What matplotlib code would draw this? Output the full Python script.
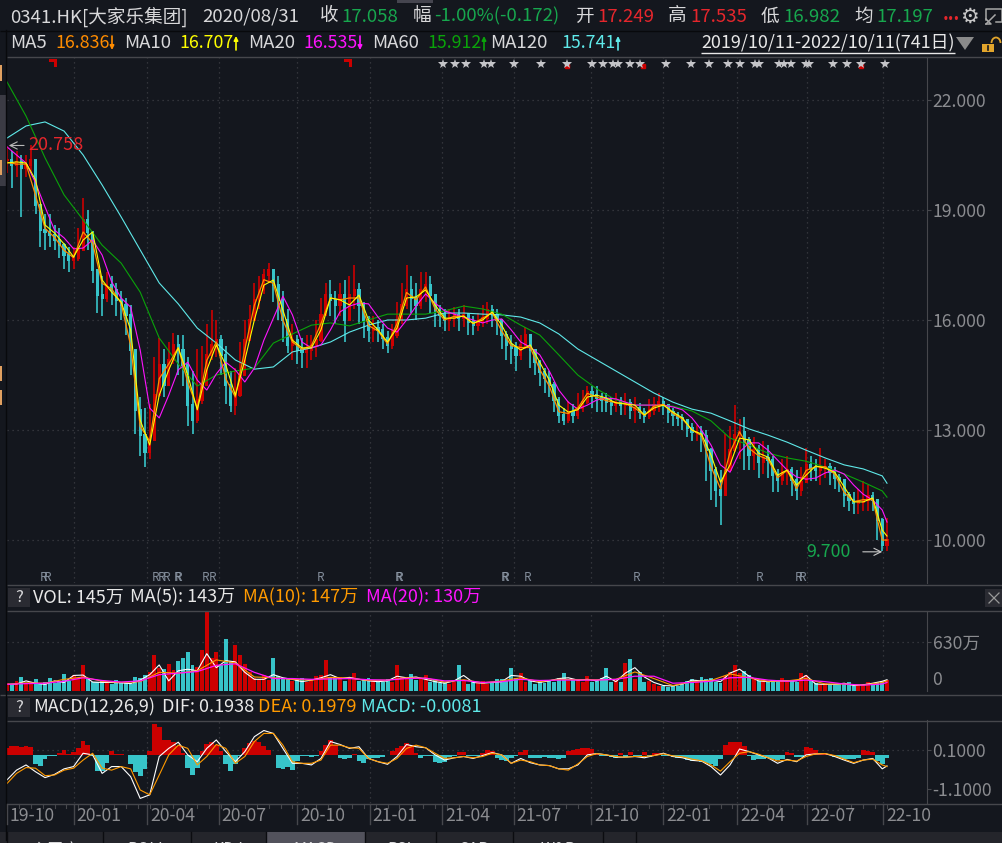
import numpy as np
import matplotlib
matplotlib.use('Agg')
import matplotlib.pyplot as plt
from matplotlib.patches import Rectangle, Arc

plt.rcParams['font.family'] = ['Noto Sans CJK SC', 'DejaVu Sans']

W, H = 1003, 843
BG = '#14171e'
GRID = '#3c3e44'
AXIS = '#46474c'
LABEL = '#8b8c90'
RED = '#e5262c'
GREEN = '#17a74e'
C_UP = '#cc0000'
C_DOWN = '#37c4c9'

# candles, one every 4 trading days
STEP = 4
close = [20.36, 20.23, 20.31, 20.14, 20.23, 20.36, 19.14, 18.45, 18.4, 18.32,
         18.18, 18.04, 17.77, 17.64, 17.69, 17.91, 18.73, 18.4, 17.36, 16.68,
         16.6, 16.95, 16.82, 16.55, 16.41, 16.14, 15.18, 13.55, 12.86, 12.4,
         12.73, 13.95, 14.77, 14.23, 14.91, 15.32, 15.18, 14.77, 13.68, 13.27,
         13.82, 14.23, 15.05, 15.32, 15.45, 15.05, 14.23, 13.68, 13.95, 14.5,
         15.45, 16.0, 16.55, 16.82, 17.23, 17.36, 16.95, 16.55, 16.0, 15.32,
         15.45, 15.18, 15.13, 15.18, 15.32, 15.45, 16.14, 16.68, 16.55, 16.41,
         16.68, 16.0, 16.68, 16.82, 16.41, 16.0, 15.73, 15.78, 15.73, 15.5,
         15.32, 15.59, 16.0, 16.41, 16.82, 16.6, 16.41, 16.82, 16.95, 16.68,
         16.27, 16.14, 16.0, 16.05, 16.14, 16.05, 16.14, 15.95, 15.86, 15.95,
         16.05, 16.27, 16.14, 16.0, 15.59, 15.32, 15.24, 15.05, 15.32, 15.59,
         15.18, 14.85, 14.58, 14.42, 14.23, 13.82, 13.41, 13.27, 13.49, 13.41,
         13.6, 13.76, 14.04, 13.95, 13.87, 13.82, 13.76, 13.68, 13.76, 13.68,
         13.74, 13.55, 13.6, 13.49, 13.38, 13.55, 13.68, 13.76, 13.68, 13.49,
         13.41, 13.33, 13.27, 13.05, 12.95, 12.95, 12.84, 12.45, 11.91, 11.36,
         11.23, 11.91, 12.45, 12.86, 12.95, 12.73, 12.32, 12.45, 12.13, 12.24,
         12.18, 11.77, 11.64, 11.85, 11.91, 11.64, 11.36, 11.58, 12.05, 11.96,
         11.91, 11.96, 11.99, 11.85, 11.69, 11.64, 11.23, 11.09, 11.01, 11.04,
         11.09, 11.2, 11.09, 10.55, 9.86, 10.0]
high = [20.75, 20.6, 20.6, 20.5, 20.5, 20.78, 20.3, 19.1, 18.9, 18.9,
        18.6, 18.5, 18.1, 18.0, 18.0, 18.5, 19.33, 19.0, 18.4, 17.4,
        17.2, 17.3, 17.2, 17.0, 16.8, 16.6, 16.4, 15.0, 13.9, 13.6,
        13.7, 15.0, 15.5, 15.2, 15.4, 15.65, 15.6, 15.6, 15.0, 14.6,
        15.2, 15.3, 15.9, 16.27, 16.0, 15.6, 15.3, 14.6, 14.7, 15.4,
        16.0, 16.4, 17.0, 17.2, 17.4, 17.55, 17.4, 17.2, 16.8, 16.3,
        15.9, 15.6, 15.5, 15.6, 15.6, 16.0, 16.6, 17.0, 17.1, 16.8,
        17.0, 17.1, 17.2, 17.5, 17.0, 16.5, 16.1, 16.1, 16.0, 15.9,
        15.7, 15.9, 16.5, 17.0, 17.5, 17.2, 17.0, 17.3, 17.3, 17.2,
        16.7, 16.4, 16.3, 16.3, 16.35, 16.3, 16.4, 16.2, 16.1, 16.2,
        16.4, 16.5, 16.4, 16.3, 16.0, 15.7, 15.6, 15.4, 15.6, 15.8,
        15.6, 15.2, 14.9, 14.7, 14.6, 14.3, 13.9, 13.6, 13.8, 13.7,
        14.0, 14.1, 14.2, 14.2, 14.2, 14.0, 14.0, 13.9, 14.0, 13.9,
        14.0, 13.85, 13.9, 13.75, 13.6, 13.85, 13.9, 14.0, 13.9, 13.7,
        13.6, 13.5, 13.45, 13.3, 13.2, 13.15, 13.1, 13.0, 12.5, 12.0,
        11.9, 12.9, 13.1, 13.68, 13.3, 13.35, 12.8, 12.8, 12.6, 12.7,
        12.6, 12.3, 11.95, 12.2, 12.3, 12.0, 11.9, 12.0, 12.5, 12.3,
        12.2, 12.5, 12.2, 12.1, 12.0, 11.8, 11.5, 11.3, 11.3, 11.4,
        11.6, 11.5, 11.3, 11.1, 10.6, 10.6]
low = [20.0, 19.6, 19.9, 18.8, 19.9, 20.0, 18.9, 18.0, 17.9, 18.0,
       17.9, 17.7, 17.4, 17.3, 17.4, 17.6, 18.3, 17.9, 17.0, 16.2,
       16.1, 16.5, 16.4, 16.1, 16.0, 15.6, 14.5, 12.9, 12.3, 12.0,
       12.2, 13.1, 13.9, 13.9, 14.4, 14.8, 14.5, 14.2, 13.1, 12.9,
       13.2, 13.7, 14.4, 14.9, 15.0, 14.5, 13.7, 13.5, 13.4, 13.9,
       14.9, 15.5, 16.1, 16.3, 16.7, 17.0, 16.5, 16.0, 15.4, 15.1,
       14.9, 14.8, 14.7, 14.7, 14.9, 15.0, 15.4, 16.2, 16.1, 15.9,
       16.1, 15.4, 16.1, 16.3, 15.9, 15.5, 15.4, 15.4, 15.4, 15.2,
       15.1, 15.2, 15.5, 15.9, 16.3, 16.2, 16.0, 16.3, 16.5, 16.2,
       15.8, 15.8, 15.7, 15.7, 15.8, 15.7, 15.8, 15.6, 15.6, 15.7,
       15.8, 15.9, 15.8, 15.6, 15.2, 14.9, 14.8, 14.6, 14.9, 15.2,
       14.7, 14.5, 14.2, 14.0, 13.9, 13.5, 13.2, 13.15, 13.2, 13.2,
       13.3, 13.5, 13.7, 13.6, 13.5, 13.5, 13.5, 13.4, 13.5, 13.4,
       13.4, 13.3, 13.2, 13.3, 13.2, 13.3, 13.4, 13.5, 13.4, 13.2,
       13.1, 13.1, 13.0, 12.8, 12.7, 12.7, 12.4, 11.6, 11.1, 10.9,
       10.4, 11.3, 12.0, 12.4, 12.2, 11.9, 11.9, 11.9, 11.7, 11.8,
       11.7, 11.3, 11.3, 11.5, 11.5, 11.2, 11.1, 11.2, 11.7, 11.6,
       11.6, 11.5, 11.7, 11.5, 11.4, 11.3, 10.9, 10.8, 10.7, 10.7,
       10.8, 10.8, 10.8, 10.0, 9.7, 9.7]

# short moving averages, one every 8 trading days plus the last day
ma5 = [20.3, 20.25, 20.25, 19.4, 18.5, 18.25, 17.9, 17.7, 18.4, 18.1,
       17.0, 16.85, 16.45, 15.3, 13.1, 12.7, 14.4, 14.8, 15.25, 14.3,
       13.6, 14.9, 15.4, 14.4, 13.9, 15.2, 16.4, 17.1, 17.0, 16.0,
       15.4, 15.2, 15.3, 15.9, 16.6, 16.55, 16.6, 16.6, 15.85, 15.7,
       15.35, 15.9, 16.75, 16.55, 16.9, 16.3, 16.0, 16.1, 16.1, 15.9,
       16.05, 16.2, 15.7, 15.3, 15.25, 15.25, 14.65, 14.2, 13.5, 13.45,
       13.6, 14.0, 13.9, 13.8, 13.75, 13.72, 13.6, 13.4, 13.65, 13.7,
       13.45, 13.3, 13.0, 12.85, 12.0, 11.4, 12.4, 12.95, 12.5, 12.3,
       12.2, 11.7, 11.9, 11.4, 11.9, 12.0, 12.0, 11.8, 11.3, 11.05,
       11.1, 11.1, 10.0, 10.0]
ma10 = [20.28, 20.31, 20.28, 19.82, 18.59, 18.37, 18.07, 17.72, 18.18, 18.4,
        17.09, 16.76, 16.49, 15.73, 13.27, 12.59, 13.95, 14.64, 15.24, 14.5,
        13.55, 14.64, 15.32, 14.77, 13.95, 14.91, 16.0, 16.95, 17.09, 16.27,
        15.45, 15.24, 15.24, 15.73, 16.6, 16.55, 16.41, 16.68, 16.0, 15.73,
        15.4, 15.78, 16.6, 16.63, 16.82, 16.41, 16.05, 16.05, 16.11, 15.91,
        16.0, 16.22, 15.86, 15.37, 15.18, 15.32, 14.85, 14.36, 13.68, 13.49,
        13.55, 13.9, 13.95, 13.87, 13.74, 13.71, 13.68, 13.41, 13.6, 13.68,
        13.49, 13.33, 13.0, 12.89, 12.32, 11.58, 12.05, 12.78, 12.73, 12.37,
        12.26, 11.77, 11.91, 11.5, 11.77, 12.02, 11.96, 11.85, 11.45, 11.04,
        11.04, 11.15, 10.27, 10.11]
ma20 = [20.72, 20.5, 20.28, 19.74, 19.08, 18.45, 18.24, 17.94, 17.96, 18.18,
        17.77, 17.04, 16.6, 16.35, 15.18, 13.6, 13.33, 13.95, 14.64, 14.85,
        14.36, 14.09, 14.53, 14.85, 14.64, 14.31, 14.69, 15.45, 16.05, 16.65,
        16.14, 15.4, 15.24, 15.32, 15.73, 16.22, 16.38, 16.46, 16.44, 16.08,
        15.78, 15.67, 16.0, 16.38, 16.71, 16.46, 16.25, 16.16, 16.08, 16.0,
        15.92, 16.0, 16.03, 15.73, 15.4, 15.26, 15.05, 14.61, 14.09, 13.76,
        13.57, 13.68, 13.82, 13.87, 13.85, 13.76, 13.68, 13.68, 13.68, 13.68,
        13.63, 13.55, 13.33, 13.0, 12.59, 12.05, 11.85, 12.4, 12.65, 12.65,
        12.45, 12.18, 11.91, 11.72, 11.66, 11.69, 11.83, 11.91, 11.8, 11.5,
        11.25, 11.09, 10.82, 10.49]

# long moving averages, one every 16 trading days plus the last day
ma60 = [22.49, 21.56, 20.42, 19.41, 18.73, 18.04, 17.55, 16.76, 15.51, 14.8,
        14.2, 14.5, 14.61, 14.69, 15.37, 15.62, 15.86, 15.92, 15.84, 16.0,
        16.16, 16.16, 16.16, 16.25, 16.38, 16.3, 16.16, 15.86, 15.59, 15.05,
        14.5, 14.12, 13.82, 13.68, 13.68, 13.65, 13.52, 13.25, 12.78, 12.59,
        12.37, 12.24, 12.15, 11.99, 11.8, 11.58, 11.34, 11.17]
ma120 = [20.96, 21.29, 21.4, 21.15, 20.5, 19.68, 18.81, 17.91, 17.01, 16.44,
         15.78, 15.37, 14.91, 14.66, 14.72, 15.13, 15.24, 15.4, 15.67, 15.86,
         16.0, 16.0, 16.05, 16.19, 16.19, 16.16, 16.14, 16.08, 15.92, 15.62,
         15.21, 14.91, 14.61, 14.31, 14.01, 13.76, 13.57, 13.46, 13.25, 13.03,
         12.86, 12.67, 12.45, 12.24, 12.05, 11.94, 11.75, 11.55]

# volume in 万
volume = [100, 90, 130, 180, 85, 120, 150, 90, 110, 170,
          100, 125, 215, 130, 200, 170, 340, 160, 120, 110,
          130, 110, 95, 140, 120, 105, 90, 180, 170, 210,
          250, 460, 300, 280, 350, 270, 380, 420, 500, 330,
          310, 525, 1030, 430, 500, 340, 665, 380, 590, 460,
          350, 250, 170, 160, 210, 140, 420, 190, 150, 170,
          130, 140, 170, 120, 150, 190, 200, 400, 180, 170,
          180, 130, 175, 230, 130, 150, 170, 140, 110, 120,
          150, 120, 335, 180, 170, 220, 140, 150, 210, 110,
          140, 100, 110, 90, 120, 335, 130, 90, 110, 100,
          130, 90, 120, 150, 160, 130, 290, 170, 230, 110,
          140, 90, 120, 100, 130, 110, 170, 230, 130, 150,
          160, 120, 190, 110, 130, 170, 290, 110, 140, 120,
          355, 410, 150, 250, 110, 130, 90, 70, 60, 50,
          60, 70, 90, 130, 160, 110, 180, 150, 170, 120,
          100, 190, 250, 340, 230, 260, 200, 170, 130, 150,
          110, 140, 130, 170, 120, 130, 110, 230, 205, 130,
          100, 90, 100, 80, 85, 90, 95, 110, 70, 75,
          80, 110, 85, 120, 130, 145]
vol_ma5 = [85, 90, 130, 100, 85, 130, 110, 200, 205, 115,
           110, 110, 105, 95, 140, 210, 335, 130, 260, 280,
           260, 480, 300, 390, 375, 240, 150, 150, 210, 170,
           150, 120, 140, 170, 210, 160, 175, 150, 130, 120,
           130, 190, 170, 180, 150, 120, 100, 130, 200, 110,
           100, 110, 120, 200, 190, 130, 110, 130, 160, 170,
           140, 150, 130, 190, 120, 230, 300, 180, 110, 70,
           65, 90, 140, 130, 140, 120, 230, 280, 190, 130,
           120, 130, 130, 130, 200, 90, 85, 85, 100, 70,
           80, 100, 125, 145]
vol_ma10 = [85, 105, 100, 150, 180, 125, 110, 120, 240, 230,
            260, 400, 360, 180, 170, 150, 140, 175, 165, 135,
            140, 170, 165, 115, 145, 105, 130, 170, 120, 150,
            145, 145, 150, 245, 160, 70, 120, 135, 220, 170,
            125, 130, 160, 90, 90, 75, 110, 130]
vol_ma20 = [85, 95, 100, 125, 170, 135, 115, 130, 210, 230,
            250, 330, 350, 240, 160, 160, 150, 155, 160, 145,
            140, 160, 165, 130, 135, 110, 120, 150, 135, 140,
            140, 140, 150, 190, 190, 100, 110, 125, 170, 175,
            140, 125, 140, 120, 90, 75, 90, 110]

# MACD
macd_hist = [.2, .25, .25, .22, .25, .22, -.3, -.36, -.15, -.06,
             -.03, .05, .15, .03, .08, .2, .43, .3, -.05, -.5,
             -.52, -.25, .1, .03, .01, -.02, -.3, -.55, -.65, -.45,
             .1, .95, .85, .45, .46, .4, .25, .05, -.4, -.62,
             -.4, .1, .33, .4, .3, .1, -.3, -.5, -.3, -.05,
             .2, .35, .41, .38, .25, .15, -.02, -.42, -.45, -.38,
             -.47, -.2, -.05, -.05, -.08, -.03, .1, .3, .45, .3,
             -.1, -.15, -.1, .03, -.2, -.26, -.15, -.1, -.12, -.08,
             -.02, .1, .2, .25, .36, .3, .05, -.12, -.04, -.05,
             -.22, -.26, -.22, -.08, -.04, .08, .07, -.05, -.04, -.05,
             .05, .14, .1, -.1, -.18, -.2, -.12, -.06, .08, .15,
             -.1, -.12, -.1, -.08, -.1, -.12, -.13, -.1, .1, .15,
             .18, .2, .2, .17, .03, -.03, -.06, -.08, -.1, .04,
             -.08, .07, -.05, -.07, .07, -.07, .05, .06, -.05, -.06,
             -.08, -.1, -.12, -.18, -.2, -.2, -.22, -.25, -.3, -.36,
             -.15, .3, .38, .38, .4, .25, -.05, -.17, -.15, -.14,
             -.1, -.14, -.17, -.14, .08, .05, -.07, -.08, .24, .2,
             .14, .05, .03, .02, -.08, -.12, -.15, -.14, -.13, -.1,
             .15, .1, .08, -.2, -.28, -.1]
dif = [-.82, -.52, -.36, -.57, -.75, -.65, -.48, -.41, 0, -.05,
       -.62, -.41, -.41, -.72, -1.39, -1.28, -.1, .15, .34, -.05,
       -.26, .15, .41, .05, -.26, .05, .51, .7, .61, .15,
       -.31, -.31, -.36, -.16, .36, .27, .15, .2, -.16, -.26,
       -.34, -.1, .27, .2, .17, -.05, -.21, -.14, -.1, -.16,
       -.07, .02, -.05, -.31, -.16, -.29, -.36, -.38, -.48, -.48,
       -.36, -.05, -.01, -.05, -.12, -.12, -.1, -.14, -.07, 0,
       -.1, -.14, -.22, -.24, -.41, -.67, -.36, .13, .05, -.05,
       -.14, -.31, -.19, -.26, -.05, -.02, -.01, -.1, -.21, -.31,
       -.21, -.16, -.48, -.39]
dea = [-.93, -.62, -.44, -.46, -.69, -.67, -.52, -.46, -.21, 0,
       -.46, -.52, -.41, -.48, -1.13, -1.28, -.67, -.05, .25, .15,
       -.36, -.1, .27, .15, -.31, -.1, .36, .61, .61, .25,
       -.26, -.31, -.31, -.21, .25, .25, .17, .15, -.16, -.26,
       -.31, -.16, .15, .25, .17, 0, -.16, -.14, -.1, -.14,
       -.1, 0, -.05, -.31, -.21, -.26, -.36, -.38, -.48, -.52,
       -.33, -.1, -.01, -.05, -.1, -.12, -.1, -.1, -.07, -.02,
       -.08, -.11, -.18, -.23, -.36, -.55, -.26, 0, .05, -.03,
       -.14, -.24, -.21, -.24, -.1, -.02, -.01, -.07, -.18, -.29,
       -.21, -.18, -.36, -.41]

# x axis months, in trading days from the first bar
month_labels = ['19-10', '20-01', '20-04', '20-07', '20-10', '21-01', '21-04',
                '21-07', '21-10', '22-01', '22-04', '22-07', '22-10']
month_pos = [0, 56, 118, 178, 244, 305, 366, 426, 491, 552, 614, 673, 737]

# event markers, in trading days
star_days = [367, 377, 386, 401, 407, 426, 449, 471, 492, 501, 510, 514, 524, 532,
             554, 575, 590, 606, 616, 629, 632, 649, 653, 659, 672, 674, 695, 706,
             718, 738]
flag_days = [39, 287]
small_flag_days = [471, 535, 718]
r_days = [31, 34, 125, 130, 134, 143, 144, 167, 173, 264, 329, 330, 418, 419, 438,
          529, 633, 666, 669]

price_ticks = [10, 13, 16, 19, 22]

day_x = np.arange(len(close)) * STEP
ma_x = np.append(np.arange(0, 737, 8), 740)
long_x = np.append(np.arange(0, 737, 16), 740)

X_MAX = 920 / (880 / 740)


def axes_px(fig, left, top, right, bottom):
    a = fig.add_axes([left / W, 1 - bottom / H, (right - left) / W, (bottom - top) / H])
    a.set_facecolor(BG)
    a.set_xlim(0, X_MAX)
    for s in ['top', 'left', 'bottom']:
        a.spines[s].set_visible(False)
    a.spines['right'].set_color(AXIS)
    a.yaxis.tick_right()
    a.tick_params(axis='y', colors=LABEL, labelsize=12.7, length=3, color=AXIS, pad=1)
    a.set_xticks(month_pos[1:])
    a.set_xticklabels([])
    a.tick_params(axis='x', length=0)
    a.grid(axis='x', color=GRID, ls=(0, (1, 3)), lw=0.9)
    a.set_axisbelow(True)
    return a


fig = plt.figure(figsize=(W / 100, H / 100), dpi=100, facecolor=BG)

# price panel
ax = axes_px(fig, 7, 57, 927, 583)
ax.set_ylim(8.83, 23.17)
ax.set_yticks(price_ticks)
ax.set_yticklabels(['%.3f' % p for p in price_ticks])
ax.grid(axis='y', color=GRID, ls=(0, (1, 3)), lw=0.9)

prev = np.r_[close[0], close[:-1]]
c = np.array(close)
colors = [C_UP if up else C_DOWN for up in c >= prev]
ax.vlines(day_x, low, high, colors=colors, lw=1.2, zorder=2)
ax.bar(day_x, np.abs(c - prev) + 0.06, bottom=np.minimum(c, prev) - 0.03, width=2.7,
       color=colors, zorder=2)

ax.plot(long_x, ma120, color='#5fe9e9', lw=0.8, zorder=3)
ax.plot(long_x, ma60, color='#0aa30a', lw=0.8, zorder=3)
ax.plot(ma_x, ma20, color='#ff14ff', lw=0.8, zorder=4)
ax.plot(ma_x, ma5, color='#ff8c00', lw=0.9, zorder=4)
ax.plot(ma_x, ma10, color='#ffff00', lw=0.8, zorder=5)

y_mark = 22.0 + (100 - 64) / 36.67
ax.plot(small_flag_days, [y_mark - 0.05] * len(small_flag_days), 's', color='#cc0000', ms=3.5, zorder=5)
ax.plot(star_days, [y_mark] * len(star_days), '*', color='#c4c4c8', ms=7, mew=0, zorder=6)
ax.plot(flag_days, [y_mark + 0.03] * len(flag_days), ls='none', color='#cc0000', ms=5.5, mew=0,
        marker=[(-1, 1), (1, 1), (1, -1), (0.3, -1), (0.3, 0.3), (-1, 0.3)], zorder=6)
for d in r_days:
    ax.text(d, 8.99, 'R', color='#8f9aa8', fontsize=8.5, ha='center', va='center', alpha=0.9)

ax.annotate('20.758', xy=(1.5, 20.758), xytext=(14, 0), textcoords='offset points',
            color=RED, fontsize=13, va='center', zorder=7,
            arrowprops=dict(arrowstyle='->', color='#b8b8b8', lw=0.8, shrinkA=1, shrinkB=0))
ax.annotate('9.700', xy=(736, 9.68), xytext=(-23, 0), textcoords='offset points',
            color=GREEN, fontsize=12.8, va='center', ha='right', zorder=7,
            arrowprops=dict(arrowstyle='->', color='#c8c8c8', lw=0.8, shrinkA=7, shrinkB=0))

# volume panel
av = axes_px(fig, 7, 611, 927, 691)
av.set_ylim(0, 80 / 49 * 630)
av.set_yticks([630])
av.set_yticklabels(['630万'])
av.axhline(630, color=GRID, ls=(0, (1, 3)), lw=0.9, zorder=1)
av.bar(day_x, volume, width=3.3, color=colors, zorder=2)
av.plot(ma_x, vol_ma5, color='white', lw=0.8, zorder=3)
av.plot(long_x, vol_ma10, color='#ff9a00', lw=0.8, zorder=3)
av.plot(long_x, vol_ma20, color='#ff14ff', lw=0.9, zorder=4)
av.annotate('0', xy=(1, 0), xycoords='axes fraction', xytext=(4, 8), textcoords='offset points',
            color=LABEL, fontsize=12.7, va='center', annotation_clip=False)

# MACD panel
am = axes_px(fig, 7, 720, 927, 803)
am.set_ylim(-1.531, 1.023)
am.set_yticks([0.1, -1.1])
am.set_yticklabels(['0.1000', '-1.1000'])
am.axhline(0.1, color=GRID, ls=(0, (1, 3)), lw=0.9, zorder=1)
hist = np.array(macd_hist)
am.bar(day_x, hist, bottom=-0.04, width=4, color=[C_UP if h > 0 else C_DOWN for h in hist], zorder=2)
am.plot(ma_x, dif, color='white', lw=0.8, zorder=3)
am.plot(ma_x, dea, color='#ff9a00', lw=0.8, zorder=4)

# everything around the panels goes on a pixel overlay
ov = fig.add_axes([0, 0, 1, 1], zorder=10)
ov.set_xlim(0, W)
ov.set_ylim(H, 0)
ov.axis('off')


def put(x, y, s, color='#d8d8da', size=12.5, **kw):
    ov.text(x, y, s, color=color, fontsize=size, va='center', ha=kw.pop('ha', 'left'), **kw)


def hline(y, x0=0, x1=W, color=AXIS, lw=1):
    ov.plot([x0, x1], [y, y], color=color, lw=lw, solid_capstyle='butt')


def small_arrow(x, up, color):
    y0, y1 = (50, 36) if up else (36, 50)
    ov.annotate('', xy=(x, y1), xytext=(x, y0), xycoords='data', textcoords='data',
                arrowprops=dict(arrowstyle='-|>', color=color, lw=1.2, mutation_scale=6,
                                shrinkA=0, shrinkB=0))


hline(30.5, color='#08090c')
hline(56.5, x0=7)
hline(584.5, x0=7)
hline(610.5, x0=7)
hline(694.5, x0=0)
hline(720.5, x0=7)
hline(803.5, x0=7)
ov.add_patch(Rectangle((397, 0), 36, 3, color='#45454f', lw=0))

# left edge of the window
ov.add_patch(Rectangle((0, 95), 6, 91, color='#3b3b44', lw=0))
ov.add_patch(Rectangle((0, 65), 2, 16, color='#e0a060', lw=0))
ov.add_patch(Rectangle((0, 160), 2, 15, color='#e0a060', lw=0))
ov.add_patch(Rectangle((0, 366), 2, 15, color='#e0a060', lw=0))
ov.add_patch(Rectangle((0, 390), 2, 15, color='#e0a060', lw=0))
ov.plot([6.5, 6.5], [30, 840], color='#08090c', lw=1)

# header rows
hdr = [(10, '0341.HK[大家乐集团]', '#d8d8da'), (202, '2020/08/31', '#d8d8da'),
       (320, '收', '#d8d8da'), (341, '17.058', GREEN), (413, '幅', '#d8d8da'),
       (434, '-1.00%(-0.172)', GREEN), (575, '开', '#d8d8da'), (597, '17.249', RED),
       (668, '高', '#d8d8da'), (690, '17.535', RED), (761, '低', '#d8d8da'),
       (783, '16.982', GREEN), (854, '均', '#d8d8da'), (876, '17.197', GREEN)]
for x, s, col in hdr:
    put(x, 16.5, s, col, 13.4)
put(943, 14, '...', RED, 13, fontweight='bold')

for x, s in [(10, 'MA5'), (124, 'MA10'), (248, 'MA20'), (372, 'MA60'), (490, 'MA120')]:
    put(x, 43, s, '#d8d8da', 13.4)
for x, s, col, up in [(55, '16.836', '#ff8c00', False), (179, '16.707', '#ffff00', True),
                      (303, '16.535', '#ff14ff', False), (427, '15.912', '#0aa30a', True),
                      (561, '15.741', '#5fe9e9', True)]:
    put(x, 43, s, col, 12.8)
    small_arrow(x + 57, up, col)
put(701, 43, '2019/10/11-2022/10/11(741日)', '#e8e8e8', 12.9)
hline(52.5, x0=701, x1=955, color='#e8e8e8')
ov.fill([956, 974, 965], [37, 37, 50], color='#8a8a8a', lw=0)

# gear, screen and lock icons
ov.text(969, 17, '⚙', color='#c8c8c8', fontsize=15, family='DejaVu Sans', ha='center', va='center')
ov.plot([986, 986, 1002, 1002, 996], [20, 9, 9, 22, 22], color='#a8a8a8', lw=1.1)
ov.plot([986, 995], [24, 15], color='#a8a8a8', lw=1.1)
ov.plot([986, 991, 986], [19, 24, 24], color='#a8a8a8', lw=1.1)
ov.add_patch(Rectangle((982, 44), 12, 8, color='#e2a52c', lw=0))
ov.add_patch(Arc((996, 43), 9, 11, theta1=180, theta2=360, color='#e2a52c', lw=1.3))
ov.plot([988, 988], [46, 50], color='#14171e', lw=1.2)

# panel title rows
ov.add_patch(Rectangle((8, 588), 22, 19, color='#2a2b32', lw=0))
put(19, 597.5, '?', '#d8d8da', 12, ha='center')
for x, s, col in [(33, 'VOL: 145万', '#e8e8e8'), (130, 'MA(5): 143万', '#e8e8e8'),
                  (243, 'MA(10): 147万', '#ff9a00'), (366, 'MA(20): 130万', '#ff14ff')]:
    put(x, 597.5, s, col, 13)
ov.add_patch(Rectangle((985, 589), 18, 18, color='#2a2b32', lw=0))
ov.plot([989, 999], [593, 603], color='#9a9a9a', lw=0.9)
ov.plot([989, 999], [603, 593], color='#9a9a9a', lw=0.9)

ov.add_patch(Rectangle((8, 698), 22, 19, color='#2a2b32', lw=0))
put(19, 707.5, '?', '#d8d8da', 12, ha='center')
for x, s, col in [(33, 'MACD(12,26,9)', '#e8e8e8'), (162, 'DIF: 0.1938', '#e8e8e8'),
                  (258, 'DEA: 0.1979', '#ff9a00'), (361, 'MACD: -0.0081', '#5fe9e9')]:
    put(x, 707.5, s, col, 13)

# month axis
for lab, d in zip(month_labels, month_pos):
    px = 7 + d * 880 / 740
    ov.plot([px, px], [804, 824], color=AXIS, lw=1)
    put(px + 3, 816, lab, LABEL, 12.7)
for d in range(0, 741, 10):
    px = 7 + d * 880 / 740
    ov.plot([px, px], [804, 808], color=AXIS, lw=0.8)

# tab bar, only the top of the labels is on screen
ov.add_patch(Rectangle((0, 832), W, 11, color='#24252b', lw=0))
ov.add_patch(Rectangle((266, 832), 99, 11, color='#52525c', lw=0))
for x in [7, 103.5, 190.6, 266, 365, 435.6, 513.5, 602.7, 636]:
    ov.plot([x, x], [832, 843], color='#0b0c10', lw=1)
for x, s in [(55, '主买席'), (147, 'BOLL'), (228, 'KDJ'), (315, 'MACD'), (400, 'RSI'),
             (474, 'SAR'), (558, 'W&R'), (619, '+')]:
    ov.text(x, 850, s, color='#d8d8da', fontsize=11.5, ha='center', va='center', clip_on=True)

fig.savefig('out.png', dpi=100, facecolor=BG)
